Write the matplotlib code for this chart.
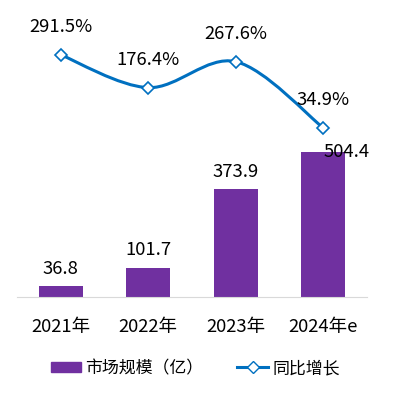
import matplotlib
matplotlib.use("Agg")
import matplotlib.pyplot as plt
from matplotlib.path import Path
from matplotlib.patches import PathPatch, Patch
from matplotlib.lines import Line2D
import numpy as np

plt.rcParams['font.family'] = ['Noto Sans CJK SC', 'DejaVu Sans']

years = ["2021年", "2022年", "2023年", "2024年e"]
market = [36.8, 101.7, 373.9, 504.4]
growth = [291.5, 176.4, 267.6, 34.9]
market_labels = ["36.8", "101.7", "373.9", "504.4"]
growth_labels = ["291.5%", "176.4%", "267.6%", "34.9%"]

bar_color = "#7030A0"
line_color = "#0070C0"
fs = 13.3

fig = plt.figure(figsize=(4.08, 3.97), dpi=100)
ax = fig.add_axes([0.0417, 0.2519, 0.858, 0.6977])
x = np.arange(len(years))
ax.bar(x, market, width=0.5, color=bar_color, zorder=2)
ax.set_xlim(-0.5, 3.5)
ax.set_ylim(0, 963)
for s in ['top', 'right', 'left']:
    ax.spines[s].set_visible(False)
ax.spines['bottom'].set_color('#D9D9D9')
ax.set_yticks([])
ax.set_xticks(x)
ax.set_xticklabels(years, fontsize=fs)
ax.tick_params(axis='x', length=0, pad=15)

for i, (v, lab) in enumerate(zip(market, market_labels)):
    if i == 3:
        ax.annotate(lab, (i, v), xytext=(17, 0), textcoords='offset points',
                    ha='center', va='center', fontsize=fs)
    else:
        ax.annotate(lab, (i, v), xytext=(0, 6), textcoords='offset points',
                    ha='center', va='bottom', fontsize=fs)

ax2 = ax.twinx()
ax2.set_ylim(-559, 414)
ax2.set_yticks([])
for s in ax2.spines.values():
    s.set_visible(False)

# smooth curve (Catmull-Rom style Bezier through data points)
pts = np.column_stack([x, growth]).astype(float)
verts = [tuple(pts[0])]
codes = [Path.MOVETO]
n = len(pts)
for i in range(n - 1):
    p0 = pts[i - 1] if i > 0 else pts[i]
    p1 = pts[i]
    p2 = pts[i + 1]
    p3 = pts[i + 2] if i + 2 < n else pts[i + 1]
    c1 = p1 + (p2 - p0) / 6
    c2 = p2 - (p3 - p1) / 6
    verts += [tuple(c1), tuple(c2), tuple(p2)]
    codes += [Path.CURVE4] * 3
ax2.add_patch(PathPatch(Path(verts, codes), facecolor='none', edgecolor=line_color,
                        lw=2.2, zorder=3))
ax2.plot(x, growth, linestyle='none', marker='D', markersize=6.5,
         markerfacecolor='white', markeredgecolor=line_color, markeredgewidth=1.2, zorder=4)
for i, (v, lab) in enumerate(zip(growth, growth_labels)):
    ax2.annotate(lab, (i, v), xytext=(0, 20), textcoords='offset points',
                 ha='center', va='center', fontsize=fs)

handles = [Patch(facecolor=bar_color, edgecolor=bar_color),
           Line2D([0], [0], color=line_color, lw=2.2, marker='D', markersize=6.5,
                  markerfacecolor='white', markeredgecolor=line_color)]
fig.legend(handles, ["市场规模（亿）", "同比增长"], loc='center',
           bbox_to_anchor=(0.478, 0.073), ncol=2, frameon=False, fontsize=12.2,
           handlelength=1.8, handleheight=0.6, columnspacing=2.0, handletextpad=0.25)

fig.savefig("out.png", dpi=100)
